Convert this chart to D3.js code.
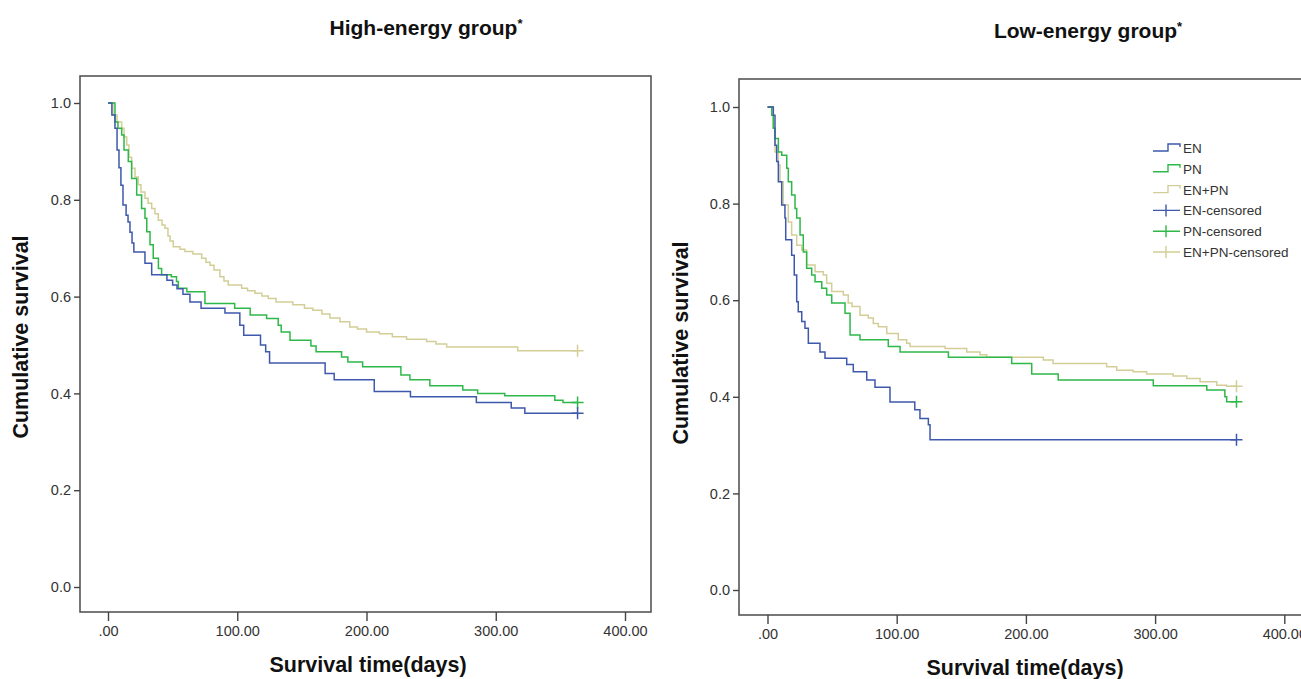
<!DOCTYPE html>
<html><head><meta charset="utf-8">
<script src="https://cdn.jsdelivr.net/npm/d3@7/dist/d3.min.js"></script>
<style>
body{margin:0;background:#fff}
svg{display:block}
text{font-family:"Liberation Sans",Arial,Helvetica,sans-serif}
</style>
</head><body>
<svg id="c" width="1301" height="679"></svg>
<script>
// ---- data ----
const xTicks = [0, 100, 200, 300, 400];
const xTickLabels = [".00", "100.00", "200.00", "300.00", "400.00"];
const yTicks = [0, 0.2, 0.4, 0.6, 0.8, 1.0];
const yTickLabels = ["0.0", "0.2", "0.4", "0.6", "0.8", "1.0"];
const seriesNames = ["EN", "PN", "EN+PN"];
const legendLabels = ["EN", "PN", "EN+PN", "EN-censored", "PN-censored", "EN+PN-censored"];
const panelTitles = ["High-energy group", "Low-energy group"];
const xLabel = "Survival time(days)";
const yLabel = "Cumulative survival";

// [time, survival after step]
const highEN = [[0,1],[3,0.975],[5.4,0.948],[7,0.903],[8.5,0.866],[10,0.83],[11.6,0.789],[14,0.768],[15.5,0.754],[17,0.733],[18.6,0.711],[20,0.692],[28.6,0.669],[33.8,0.645],[45.6,0.634],[50,0.624],[53.4,0.616],[58,0.605],[63.4,0.589],[72,0.576],[90.5,0.566],[102,0.541],[105,0.52],[118,0.5],[122,0.486],[125,0.463],[168,0.441],[175,0.428],[206,0.404],[234,0.393],[285,0.381],[312,0.37],[322.5,0.359]];
const highPN = [[0,1],[5.4,0.961],[7.7,0.948],[10.6,0.934],[12.4,0.903],[15.7,0.879],[18.3,0.844],[22.2,0.81],[26,0.782],[28.6,0.762],[30,0.734],[32.5,0.707],[35,0.679],[39,0.658],[41.5,0.645],[49,0.641],[53,0.631],[54.4,0.617],[61,0.61],[75,0.586],[98,0.576],[110,0.562],[122.7,0.555],[131.7,0.541],[134,0.527],[140.8,0.51],[157,0.498],[161,0.486],[180.7,0.475],[185.6,0.465],[197,0.455],[226.6,0.438],[233.6,0.428],[249,0.416],[274.5,0.407],[286,0.4],[307,0.395],[345.7,0.386],[352,0.381]];
const highENPN = [[0,1],[3.9,0.975],[7,0.961],[10.6,0.948],[12.4,0.93],[14.5,0.913],[16.2,0.888],[18.3,0.865],[20.9,0.847],[23.4,0.831],[25.5,0.816],[28.6,0.803],[31,0.793],[33.8,0.782],[36.3,0.771],[38.9,0.758],[41.8,0.748],[44,0.741],[46.4,0.725],[48,0.715],[50.5,0.703],[55.7,0.698],[59.5,0.693],[65.7,0.688],[72.5,0.679],[75.8,0.671],[78.9,0.665],[82,0.655],[86.6,0.641],[89.7,0.632],[93,0.624],[103.4,0.617],[108,0.612],[113.7,0.607],[119,0.601],[124,0.596],[130,0.589],[143,0.583],[152,0.576],[158.5,0.572],[165.5,0.564],[171.7,0.556],[179.4,0.548],[187,0.537],[193,0.533],[200,0.527],[210,0.523],[220,0.517],[231,0.512],[246.5,0.507],[253.7,0.502],[262,0.496],[317,0.488]];
const lowEN = [[0,1],[4.5,0.983],[5.8,0.921],[7.1,0.887],[8.4,0.845],[11,0.797],[13.5,0.77],[14.1,0.725],[18.7,0.693],[20.7,0.652],[22.6,0.597],[23.8,0.576],[26.5,0.556],[29,0.542],[31.6,0.511],[40.6,0.493],[44.5,0.48],[61.3,0.467],[66.4,0.452],[76.8,0.435],[83.2,0.42],[94.8,0.389],[114,0.373],[118,0.355],[124.5,0.342],[125.8,0.311]];
const lowPN = [[0,1],[3.3,0.983],[4.5,0.956],[5.8,0.935],[8.4,0.907],[11,0.9],[14.9,0.873],[16.1,0.845],[18.7,0.818],[21.3,0.79],[22.6,0.77],[25.2,0.735],[27.7,0.7],[30.3,0.666],[34.2,0.652],[36.8,0.638],[42,0.625],[45.8,0.611],[49.7,0.594],[60,0.573],[63.9,0.528],[71.6,0.518],[93.5,0.504],[102.6,0.493],[140,0.482],[189,0.469],[204.5,0.447],[225,0.435],[298.6,0.423],[340,0.414],[354,0.4],[355.4,0.39]];
const lowENPN = [[0,1],[4.5,0.956],[5.8,0.907],[8.4,0.88],[9.7,0.845],[12.2,0.797],[16.1,0.762],[18.7,0.735],[22.6,0.714],[26.5,0.704],[30.3,0.673],[36.8,0.659],[43.2,0.652],[45.8,0.635],[49.7,0.618],[58.7,0.611],[62.5,0.594],[65.4,0.587],[71.6,0.569],[78,0.563],[81.9,0.552],[85.8,0.545],[92.3,0.531],[101.2,0.518],[107.7,0.511],[110.3,0.504],[137.4,0.5],[154.2,0.493],[164.5,0.487],[169.7,0.482],[213.5,0.476],[221,0.469],[262.5,0.462],[270.3,0.455],[283,0.452],[293.5,0.447],[314,0.443],[324.5,0.438],[334.8,0.431],[347.7,0.424],[355.4,0.422]];
const highCensor = [363.3, 363.3, 363.3];
const lowCensor = [363, 363, 363];

// ---- styles / layout ----
const colors = ["#3e58ac", "#2eb848", "#d3ce97"];
const svg = d3.select("#c");

const panels = [
  {title: panelTitles[0], series: [highEN, highPN, highENPN], censor: highCensor,
   xr: [108, 625], yr: [587, 103], frame: {l: 80, r: 651, t: 76, b: 612},
   titleX: 426, titleY: 35, xlabX: 368, xlabY: 672, ylabX: 28, ylabY: 337, legend: false},
  {title: panelTitles[1], series: [lowEN, lowPN, lowENPN], censor: lowCensor,
   xr: [767.5, 1284.3], yr: [590, 107], frame: {l: 739, r: 1320, t: 79, b: 615},
   titleX: 1088, titleY: 38, xlabX: 1025, xlabY: 675, ylabX: 688, ylabY: 343, legend: true}
];

panels.forEach(p => {
  const x = d3.scaleLinear().domain([0, 400]).range(p.xr);
  const y = d3.scaleLinear().domain([0, 1]).range(p.yr);
  const g = svg.append("g");

  // frame
  g.append("rect").attr("x", p.frame.l).attr("y", p.frame.t)
    .attr("width", p.frame.r - p.frame.l).attr("height", p.frame.b - p.frame.t)
    .attr("fill", "none").attr("stroke", "#555").attr("stroke-width", 1.6);

  // axes
  const ya = g.append("g").attr("transform", `translate(${p.frame.l},0)`)
    .call(d3.axisLeft(y).tickValues(yTicks).tickFormat((d, i) => yTickLabels[i]).tickSize(6).tickPadding(3));
  const xa = g.append("g").attr("transform", `translate(0,${p.frame.b})`)
    .call(d3.axisBottom(x).tickValues(xTicks).tickFormat((d, i) => xTickLabels[i]).tickSize(9).tickPadding(5));
  [ya, xa].forEach(a => {
    a.select(".domain").remove();
    a.selectAll("line").attr("stroke", "#444").attr("stroke-width", 1.4);
    a.selectAll("text").attr("fill", "#333").style("font-size", "14.5px")
      .style("font-family", '"Liberation Sans",Arial,sans-serif');
  });

  // curves
  const line = d3.line().x(d => x(d[0])).y(d => y(d[1])).curve(d3.curveStepAfter);
  [2, 1, 0].forEach(i => {
    const s = p.series[i];
    const last = s[s.length - 1][1];
    const pts = s.concat([[p.censor[i], last]]);
    g.append("path").datum(pts).attr("d", line)
      .attr("fill", "none").attr("stroke", colors[i]).attr("stroke-width", 1.5);
    const cx = x(p.censor[i]), cy = y(last);
    g.append("path").attr("d", `M${cx - 6},${cy}H${cx + 6}M${cx},${cy - 6}V${cy + 6}`)
      .attr("stroke", colors[i]).attr("stroke-width", 1.5).attr("fill", "none");
  });

  // title
  const t = g.append("text").attr("x", p.titleX).attr("y", p.titleY)
    .attr("text-anchor", "middle").style("font-size", "21px").style("font-weight", "bold").attr("fill", "#111");
  t.append("tspan").text(p.title);
  t.append("tspan").text("*").style("font-size", "13px").attr("dy", -7);

  g.append("text").attr("x", p.xlabX).attr("y", p.xlabY).attr("text-anchor", "middle")
    .style("font-size", "21.5px").style("font-weight", "bold").attr("fill", "#111").text(xLabel);
  g.append("text").attr("transform", `translate(${p.ylabX},${p.ylabY}) rotate(-90)`)
    .attr("text-anchor", "middle").style("font-size", "21.5px").style("font-weight", "bold")
    .attr("fill", "#111").text(yLabel);

  if (p.legend) {
    const lx = 1153, ly0 = 148, dy = 20.8;
    legendLabels.forEach((lab, i) => {
      const yy = ly0 + i * dy;
      const c = colors[i % 3];
      if (i < 3) {
        g.append("path").attr("d", `M${lx},${yy + 3}H${lx + 15}V${yy - 4}H${lx + 27}V${yy - 1}`)
          .attr("fill", "none").attr("stroke", c).attr("stroke-width", 1.4);
      } else {
        g.append("path").attr("d", `M${lx},${yy}H${lx + 27}M${lx + 13},${yy - 6}V${yy + 6}`)
          .attr("fill", "none").attr("stroke", c).attr("stroke-width", 1.4);
      }
      g.append("text").attr("x", lx + 30).attr("y", yy + 5).style("font-size", "13.5px")
        .attr("fill", "#333").text(lab);
    });
  }
});
</script>
</body></html>
